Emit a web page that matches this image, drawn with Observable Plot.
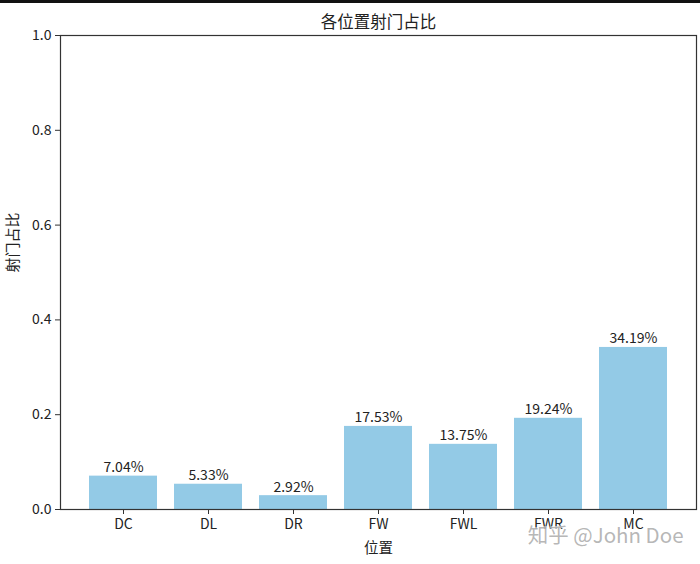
<!DOCTYPE html>
<html>
<head>
<meta charset="utf-8">
<script src="https://cdn.jsdelivr.net/npm/d3@7"></script>
<script src="https://cdn.jsdelivr.net/npm/@observablehq/plot@0.6"></script>
<style>
  html, body { margin: 0; padding: 0; background: #fff; }
  #wrap { position: relative; width: 700px; height: 564px; overflow: hidden; }
  #topbar { position: absolute; left: 0; top: 0; width: 700px; height: 3px; background: #111; }
</style>
</head>
<body>
<div id="wrap"><div id="topbar"></div></div>
<script>
const positions = ["DC", "DL", "DR", "FW", "FWL", "FWR", "MC"];
const shares = [0.0704, 0.0533, 0.0292, 0.1753, 0.1375, 0.1924, 0.3419];
const yTicks = [0, 0.2, 0.4, 0.6, 0.8, 1.0];
const titleText = "各位置射门占比";
const xLabel = "位置";
const yLabel = "射门占比";
const watermark = "知乎 @John Doe";

const data = positions.map((p, i) => ({pos: p, share: shares[i]}));

const chart = Plot.plot({
  width: 700,
  height: 564,
  marginTop: 35,
  marginLeft: 60,
  marginRight: 4,
  marginBottom: 55,
  style: {fontFamily: "'Noto Sans CJK SC', 'Noto Sans', sans-serif", fontSize: "14px", color: "#222", background: "transparent"},
  x: {domain: positions, paddingInner: 0.2, paddingOuter: 0.34},
  y: {domain: [0, 1]},
  marks: [
    Plot.barY(data, {x: "pos", y: "share", fill: "#93cae6"}),
    Plot.text(data, {x: "pos", y: "share", text: d => (d.share * 100).toFixed(2) + "%", lineAnchor: "bottom", dy: -4, fill: "#222", fontSize: 14}),
    Plot.axisY({ticks: yTicks, tickFormat: d3.format(".1f"), tickSize: 5, tickPadding: 4, label: null, fontSize: 14, stroke: "#333"}),
    Plot.axisX({tickSize: 5, tickPadding: 5, label: null, fontSize: 14, stroke: "#333"}),
    Plot.frame({stroke: "#333", strokeWidth: 1.2}),
    Plot.text([titleText], {frameAnchor: "top", dy: -13, fontSize: 16.5, fill: "#222", lineAnchor: "middle"}),
    Plot.text([xLabel], {frameAnchor: "bottom", dy: 39, fontSize: 14.5, fill: "#222", lineAnchor: "middle"}),
    Plot.text([yLabel], {frameAnchor: "left", dx: -47, rotate: -90, fontSize: 15, fill: "#222", lineAnchor: "middle"}),
    Plot.text([watermark], {frameAnchor: "bottom-right", textAnchor: "end", dx: -13, dy: 27, fontSize: 20.5, fill: "#aaa", fillOpacity: 0.85, stroke: "white", strokeWidth: 1.5, strokeOpacity: 0.6, lineAnchor: "middle"})
  ]
});
document.getElementById("wrap").insertBefore(chart, document.getElementById("topbar"));
</script>
</body>
</html>
